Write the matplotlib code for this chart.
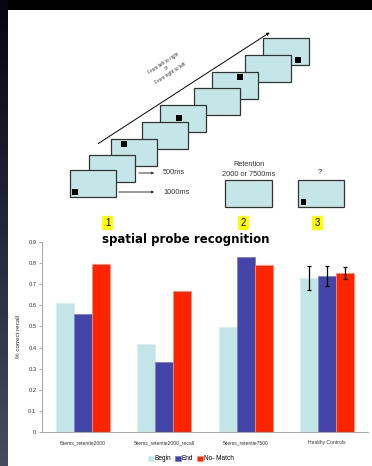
import numpy as np
import matplotlib
matplotlib.use("Agg")
import matplotlib.pyplot as plt
from matplotlib.patches import Rectangle

plt.rcParams["font.family"] = ["Liberation Sans", "DejaVu Sans"]

# chart values
conditions = [
    "6items_retentie2000",
    "5items_retentie2000_recall",
    "5items_retentie7500",
    "Healthy Controls",
]
series_names = ["Begin", "End", "No- Match"]
begin = [0.613, 0.418, 0.499, 0.729]
end = [0.558, 0.333, 0.830, 0.738]
no_match = [0.794, 0.667, 0.792, 0.754]
# error bars only for the control group
begin_err = [0, 0, 0, 0.058]
end_err = [0, 0, 0, 0.046]
no_match_err = [0, 0, 0, 0.028]
yticks = [0, 0.1, 0.2, 0.3, 0.4, 0.5, 0.6, 0.7, 0.8, 0.9]

colors = ["#c4e5e7", "#4346a8", "#ff2400"]
edges = ["#d8eef0", "#7d80c8", "#ff8a78"]

W, H = 372, 466
fig = plt.figure(figsize=(W / 100, H / 100), dpi=100)
fig.patch.set_facecolor("black")

# background + diagram in pixel coordinates
bg = fig.add_axes([0, 0, 1, 1])
bg.set_xlim(0, W)
bg.set_ylim(H, 0)
bg.axis("off")

grad = np.linspace(0, 1, 200)[:, None]
strip = np.zeros((200, 1, 3))
strip[:, 0, 0] = 0.02 + 0.27 * grad[:, 0]
strip[:, 0, 1] = 0.02 + 0.27 * grad[:, 0]
strip[:, 0, 2] = 0.08 + 0.30 * grad[:, 0]
bg.imshow(strip, extent=(0, 8, H, 0), aspect="auto", zorder=0)
bg.add_patch(Rectangle((8, 10), W - 8, H - 10, facecolor="white",
                       edgecolor="none", zorder=1))

box_fill = "#c5e6e8"
box_edge = "#333333"
bw, bh = 46, 27

stack_x = [70, 89, 111, 142, 160, 194, 212, 245, 263]
stack_y = [170, 155, 139, 122, 105, 88, 72, 55, 38]
squares = {0: (2, 19), 2: (10, 2), 4: (16, 10), 6: (25, 2), 8: (32, 19)}

for i in range(len(stack_x) - 1, -1, -1):
    bg.add_patch(Rectangle((stack_x[i], stack_y[i]), bw, bh,
                           facecolor=box_fill, edgecolor=box_edge,
                           lw=0.9, zorder=2 + (9 - i)))
    if i in squares:
        dx, dy = squares[i]
        bg.add_patch(Rectangle((stack_x[i] + dx, stack_y[i] + dy), 5.5, 5.5,
                               facecolor="black", edgecolor="none",
                               zorder=2 + (9 - i)))

# long direction arrow
bg.annotate("", xy=(272, 31), xytext=(96, 145),
            arrowprops=dict(arrowstyle="-|>", color="black", lw=0.7,
                            mutation_scale=4), zorder=20)
bg.text(167, 68, "From left to right\nor\nFrom right to left",
        fontsize=3.4, rotation=33, ha="center", va="center",
        color="#333333", linespacing=1.3, zorder=20)

# timing arrows
for y, lab in [(173, "500ms"), (192, "1000ms")]:
    x0 = 136 if lab == "500ms" else 116
    bg.annotate("", xy=(157, y), xytext=(x0, y),
                arrowprops=dict(arrowstyle="-|>", color="#333333", lw=0.7,
                                mutation_scale=3), zorder=20)
    bg.text(163, y, lab, fontsize=5.3, ha="left", va="center",
            color="#333333", zorder=20)

# retention and probe boxes
bg.add_patch(Rectangle((225, 180), 47, 27, facecolor=box_fill,
                       edgecolor=box_edge, lw=0.9, zorder=5))
bg.text(249, 164, "Retention", fontsize=5.3, ha="center", va="center",
        color="#333333", zorder=20)
bg.text(249, 174, "2000 or 7500ms", fontsize=5.3, ha="center", va="center",
        color="#333333", zorder=20)

bg.add_patch(Rectangle((298, 180), 46, 27, facecolor=box_fill,
                       edgecolor=box_edge, lw=0.9, zorder=5))
bg.add_patch(Rectangle((300.5, 199), 5.5, 5.5, facecolor="black",
                       edgecolor="none", zorder=6))
bg.text(320, 172, "?", fontsize=5.3, ha="center", va="center",
        color="#333333", zorder=20)

for x, num in [(107.5, "1"), (243.5, "2"), (317.5, "3")]:
    bg.add_patch(Rectangle((x - 5.5, 216), 11, 13.5, facecolor="#ffff00",
                           edgecolor="none", zorder=19))
    bg.text(x, 222.5, num, fontsize=7, ha="center", va="center",
            color="black", zorder=20)

# bar chart
ax = fig.add_axes([42 / W, (H - 432) / H, (368 - 42) / W, 190 / H])
ax.set_zorder(5)
ax.patch.set_alpha(0)

x = np.arange(len(conditions))
w = 0.222
for k, (vals, errs) in enumerate([(begin, begin_err), (end, end_err),
                                  (no_match, no_match_err)]):
    ax.bar(x + (k - 1) * w, vals, w, color=colors[k], edgecolor=edges[k],
           lw=0.6, label=series_names[k])
    xi = x[-1] + (k - 1) * w
    ax.errorbar(xi, vals[-1], yerr=errs[-1], fmt="none", ecolor="black",
                elinewidth=0.9, capsize=1.5, capthick=0.9)

ax.set_xlim(-0.5, len(conditions) - 0.5)
ax.set_ylim(0, 0.9)
ax.set_yticks(yticks)
ax.set_yticklabels([f"{t:g}" for t in yticks], fontsize=4.2, color="#333333")
ax.set_xticks(x)
ax.set_xticklabels(conditions, fontsize=3.6, color="#333333")
ax.tick_params(axis="x", length=0, pad=6)
ax.tick_params(axis="y", length=2, width=0.5, color="#888888", pad=2)
for s in ["top", "right"]:
    ax.spines[s].set_visible(False)
for s in ["left", "bottom"]:
    ax.spines[s].set_color("#999999")
    ax.spines[s].set_linewidth(0.6)
ax.set_ylabel("% correct recall", fontsize=4.5, color="#333333", labelpad=5)

fig.text(186 / W, 1 - 240 / H, "spatial probe recognition",
         fontsize=8.5, fontweight="bold", family="DejaVu Sans",
         ha="center", va="center", color="black")

fig.legend(loc="center", bbox_to_anchor=(191 / W, 1 - 459 / H), ncol=3,
           frameon=False, fontsize=4.7, handlelength=0.8, handleheight=0.8,
           handletextpad=0.2, columnspacing=0.6, borderaxespad=0)

fig.savefig("out.png", dpi=100, facecolor=fig.get_facecolor())
